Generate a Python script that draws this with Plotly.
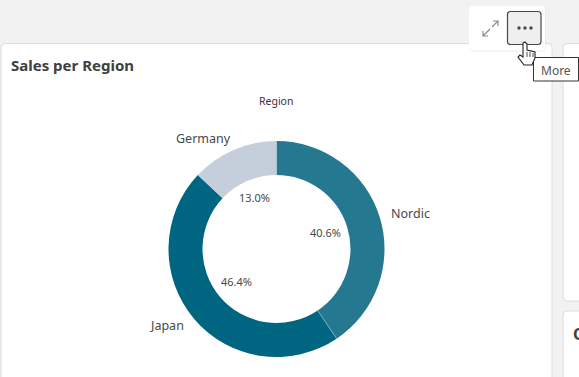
import math
import plotly.graph_objects as go

categories = ["Nordic", "Japan", "Germany"]
sales_share = [40.6, 46.4, 13.0]
slice_colors = ["#24788f", "#006580", "#c5cfdb"]
W, H = 579, 377
FONT = "Noto Sans"
TEXT = "#484848"


def X(v):
    return v / W


def Y(v):
    return 1 - v / H


def rr(x0, y0, x1, y1, r):
    pts = [
        f"M{X(x0+r)},{Y(y0)}", f"L{X(x1-r)},{Y(y0)}", f"Q{X(x1)},{Y(y0)} {X(x1)},{Y(y0+r)}",
        f"L{X(x1)},{Y(y1-r)}", f"Q{X(x1)},{Y(y1)} {X(x1-r)},{Y(y1)}",
        f"L{X(x0+r)},{Y(y1)}", f"Q{X(x0)},{Y(y1)} {X(x0)},{Y(y1-r)}",
        f"L{X(x0)},{Y(y0+r)}", f"Q{X(x0)},{Y(y0)} {X(x0+r)},{Y(y0)}", "Z",
    ]
    return " ".join(pts)


def poly(points, close=False):
    s = " ".join(("M" if i == 0 else "L") + f"{X(a)},{Y(b)}" for i, (a, b) in enumerate(points))
    return s + (" Z" if close else "")


def box(x0, y0, x1, y1, r, fill, line="rgba(0,0,0,0)", w=1, layer="below"):
    return dict(type="path", xref="paper", yref="paper", path=rr(x0, y0, x1, y1, r),
                fillcolor=fill, line=dict(color=line, width=w), layer=layer)


def stroke(points, color, w=1.2, fill=None, close=False):
    return dict(type="path", xref="paper", yref="paper", path=poly(points, close),
                line=dict(color=color, width=w), fillcolor=fill or "rgba(0,0,0,0)", layer="above")


def dot(cx, cy, r, color):
    return dict(type="circle", xref="paper", yref="paper", x0=X(cx-r), x1=X(cx+r), y0=Y(cy+r), y1=Y(cy-r),
                fillcolor=color, line=dict(width=0), layer="above")


def label(x, y, text, size, color=TEXT, anchor="center", family=FONT):
    return dict(xref="paper", yref="paper", x=X(x), y=Y(y), text=text, showarrow=False, xanchor=anchor,
                yanchor="middle", font=dict(size=size, color=color, family=family))


shapes = [
    box(1, 43.5, 552, 400, 4, "#ffffff", "#dcdcdc"),
    box(563, 43.5, 600, 301, 4, "#ffffff", "#dcdcdc"),
    box(563, 311, 600, 400, 4, "#ffffff", "#dcdcdc"),
    box(469, 8, 546, 52, 5, "rgba(0,0,0,0.035)"),
    box(469, 6, 545, 50, 4, "#ffffff"),
    box(507.5, 11.5, 541, 44.5, 3, "#efefef", "#484848", 1.2, "above"),
    dot(519, 28, 1.7, "#484848"), dot(525, 28, 1.7, "#484848"), dot(531, 28, 1.7, "#484848"),
    stroke([(483, 36), (490, 29)], "#8c8c8c"),
    stroke([(483, 31), (483, 36), (488, 36)], "#8c8c8c"),
    stroke([(492, 27), (498, 21)], "#8c8c8c"),
    stroke([(493, 21), (498, 21), (498, 26)], "#8c8c8c"),
    box(533.5, 57.5, 578.5, 81, 0, "#ffffff", "#333333", 1, "above"),
    stroke([(523, 43), (525, 42), (527, 44), (527, 50), (535, 52), (535, 58), (532, 65), (524, 65),
            (518, 57), (520, 55), (523, 57)], "#222222", 1.1, "#ffffff", True),
    stroke([(527, 52), (527, 57)], "#222222", 0.8),
    stroke([(530, 52), (530, 57)], "#222222", 0.8),
    stroke([(533, 53), (533, 57)], "#222222", 0.8),
]

cx, cy, R = 276.5, 249, 108
boundary = 2 * math.pi * sales_share[0] / sum(sales_share)
shapes.append(stroke([(cx + 74 * math.sin(boundary), cy - 74 * math.cos(boundary)),
                      (cx + R * math.sin(boundary), cy - R * math.cos(boundary))], "#8fb5c2", 0.8))

pct = [f"{v:.1f}%" for v in sales_share]
annotations = [
    label(9, 65, "<b>Sales per Region</b>", 15, "#404040", "left"),
    label(276, 101, "Region", 10.5, "#3a3040"),
    label(555.5, 70, "More", 12, "#555555"),
    label(571, 334, "<b>Q</b>", 16, "#404040", "left"),
    label(410, 213, categories[0], 12.5),
    label(167, 325, categories[1], 12.5),
    label(203, 138.5, categories[2], 12.5),
    label(325.5, 232.5, pct[0], 11),
    label(236.5, 281, pct[1], 11),
    label(254.5, 198, pct[2], 11),
]

fig = go.Figure(go.Pie(
    labels=categories, values=sales_share, sort=False, direction="clockwise", rotation=0, hole=74 / 108,
    marker=dict(colors=slice_colors, line=dict(width=0)), textinfo="none", showlegend=False,
    domain=dict(x=[X(cx - R), X(cx + R)], y=[Y(cy + R), Y(cy - R)]),
))
fig.update_layout(
    width=W, height=H, margin=dict(l=0, r=0, t=0, b=0), paper_bgcolor="#f2f2f2", plot_bgcolor="#f2f2f2",
    shapes=shapes, annotations=annotations, showlegend=False,
)
fig.write_html("out.html", config=dict(displayModeBar=False),
               post_script="document.body.style.margin='0';document.body.style.overflow='hidden';")
